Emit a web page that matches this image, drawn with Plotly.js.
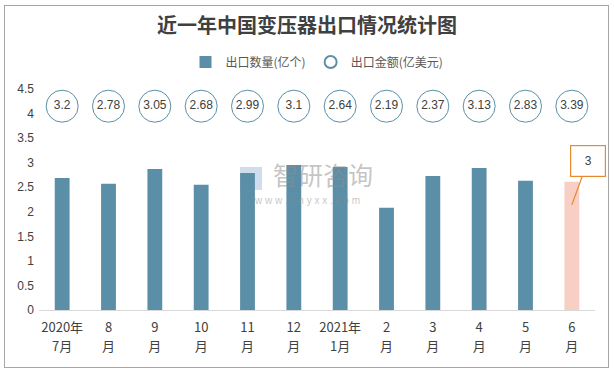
<!DOCTYPE html>
<html>
<head>
<meta charset="utf-8">
<script src="https://cdn.plot.ly/plotly-3.0.1.min.js"></script>
<style>
html,body{margin:0;padding:0;background:#fff;}
#wrap{position:relative;width:614px;height:372px;}
#chart{width:614px;height:372px;}
#frame{position:absolute;left:4px;top:5px;width:603px;height:361px;border:1px solid #a6a6a6;pointer-events:none;}
</style>
</head>
<body>
<div id="wrap"><div id="chart"></div><div id="frame"></div></div>
<script>
const categories = ["2020年7月","8月","9月","10月","11月","12月","2021年1月","2月","3月","4月","5月","6月"];
const tickTop = ["2020年","8","9","10","11","12","2021年","2","3","4","5","6"];
const tickBottom = ["7月","月","月","月","月","月","1月","月","月","月","月","月"];
const quantity = [2.69, 2.57, 2.87, 2.55, 2.79, 2.95, 2.91, 2.08, 2.73, 2.89, 2.63, 2.61];
const amount = [3.2, 2.78, 3.05, 2.68, 2.99, 3.1, 2.64, 2.19, 2.37, 3.13, 2.83, 3.39];
const amountRow = 4.15;
const calloutText = "3";

const barColors = quantity.map((v, i) => i === quantity.length - 1 ? "#f7cfc4" : "#5b8fa7");

const traces = [
  {
    type: "bar",
    name: "出口数量(亿个)",
    x: categories,
    y: quantity,
    marker: {color: barColors},
    width: 0.32,
    hoverinfo: "y"
  },
  {
    type: "scatter",
    mode: "markers+text",
    name: "出口金额(亿美元)",
    x: categories,
    y: amount.map(() => amountRow),
    xaxis: "x2",
    yaxis: "y",
    text: amount.map(String),
    textposition: "middle center",
    textfont: {family: "Liberation Sans, Arial, sans-serif", size: 12, color: "#404040"},
    marker: {size: 32, color: "#ffffff", line: {color: "#5b8fa7", width: 1}},
    cliponaxis: false
  }
];

const layout = {
  width: 614, height: 372,
  margin: {l: 39, r: 19, t: 89, b: 62},
  paper_bgcolor: "#ffffff",
  plot_bgcolor: "#ffffff",
  font: {family: "Noto Sans CJK SC, Liberation Sans, sans-serif", size: 12, color: "#404040"},
  title: {
    text: "<b>近一年中国变压器出口情况统计图</b>",
    font: {family: "Noto Sans CJK SC, serif", size: 20, color: "#404040"},
    x: 0.5, xanchor: "center", y: 0.93, yanchor: "middle"
  },
  showlegend: true,
  legend: {
    orientation: "h", x: 0.5, xanchor: "center", y: 1.122, yanchor: "middle",
    font: {size: 12, color: "#595959"}, itemsizing: "constant", itemwidth: 30, traceorder: "normal"
  },
  xaxis: {
    type: "category",
    categoryorder: "array", categoryarray: categories,
    range: [-0.5, categories.length - 0.5],
    autorange: false,
    showgrid: false, zeroline: false,
    showline: true, linecolor: "#d9d9d9", linewidth: 1,
    ticks: "outside", ticklen: 5, tickcolor: "rgba(0,0,0,0)",
    tickfont: {size: 13, color: "#404040"},
    tickmode: "array", tickvals: categories, ticktext: tickTop,
    tickangle: 0
  },
  xaxis2: {
    type: "category",
    categoryorder: "array", categoryarray: categories,
    overlaying: "x", matches: "x", anchor: "y", side: "bottom",
    range: [-0.5, categories.length - 0.5],
    autorange: false,
    showgrid: false, zeroline: false, showline: false,
    ticks: "outside", ticklen: 24, tickcolor: "rgba(0,0,0,0)",
    tickfont: {size: 13, color: "#404040"},
    tickmode: "array", tickvals: categories, ticktext: tickBottom,
    tickangle: 0
  },
  yaxis: {
    range: [0, 4.5], autorange: false, dtick: 0.5, showgrid: false, zeroline: false,
    showline: false, ticks: "", tickfont: {family: "Liberation Sans, Arial, sans-serif", size: 12, color: "#404040"},
    ticklabelstandoff: 4
  },
  shapes: [
    {type: "rect", xref: "paper", yref: "paper", x0: (240 - 39) / 556, x1: (262 - 39) / 556,
     y0: (310 - 190) / 221, y1: (310 - 167) / 221, fillcolor: "rgba(150,180,215,0.45)", line: {width: 0}, layer: "below"}
  ],
  annotations: [
    {
      x: categories[categories.length - 1], y: 2.14, xref: "x", yref: "y",
      text: calloutText, showarrow: true, arrowhead: 0, arrowwidth: 1.2,
      arrowcolor: "#e8892e", ax: 16, ay: -44,
      bordercolor: "#e8892e", borderwidth: 1.2, borderpad: 8,
      bgcolor: "#ffffff", width: 18, height: 14,
      font: {family: "Liberation Sans, Arial, sans-serif", size: 12, color: "#404040"}
    },
    {
      x: 0.51, y: 0.615, xref: "paper", yref: "paper", showarrow: false,
      text: "智研咨询", font: {size: 25, color: "rgba(140,140,140,0.5)"}
    },
    {
      x: 0.482, y: 0.495, xref: "paper", yref: "paper", showarrow: false,
      text: "w w w . c h y x x . c o m", font: {family: "Liberation Sans, sans-serif", size: 10, color: "rgba(140,140,140,0.5)"}
    }
  ]
};

Plotly.newPlot("chart", traces, layout, {displayModeBar: false, staticPlot: true});
</script>
</body>
</html>
